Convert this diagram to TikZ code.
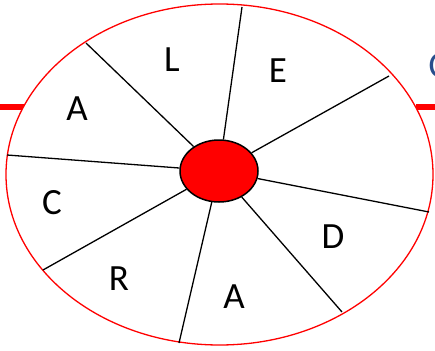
\documentclass[tikz,border=0pt]{standalone}
\usepackage{fontspec}
\setmainfont{Carlito}
\usetikzlibrary{shapes.geometric}
\definecolor{darkblue}{RGB}{40,78,140}
\begin{document}
\begin{tikzpicture}[x=1pt,y=-1pt,
  spoke/.style={draw=black,line width=1.3pt},
  letter/.style={font=\fontsize{37}{40}\selectfont,inner sep=0pt},
  redbar/.style={draw=red,line width=5.5pt}]
\useasboundingbox (0,0) rectangle (435,350);
% side bars
\coordinate (bl1) at (0,107);
\coordinate (bl2) at (24,107);
\coordinate (br1) at (416,107);
\coordinate (br2) at (435,107);
\draw[redbar] (bl1) -- (bl2);
\draw[redbar] (br1) -- (br2);
\node[anchor=west,inner sep=0pt,text=darkblue,font=\fontsize{37}{40}\selectfont] (blueC) at (428.5,66) {C};
% outer ellipse
\node[draw=red,line width=1.3pt,fill=white,ellipse,minimum width=427pt,minimum height=341pt,inner sep=0pt] (outer) at (219.5,174.5) {};
% outer spoke ends
\coordinate (o1) at (86,43);
\coordinate (o2) at (242,7);
\coordinate (o3) at (389,76);
\coordinate (o4) at (429,212);
\coordinate (o5) at (342,312);
\coordinate (o6) at (179,343);
\coordinate (o7) at (43,270);
\coordinate (o8) at (7,155);
% center
\node[draw=black,line width=1.5pt,fill=red,ellipse,minimum width=78pt,minimum height=62pt,inner sep=0pt] (hub) at (219,171) {};
\foreach \i in {1,...,8} {\draw[spoke] (hub) -- (o\i);}
% letters
\node[letter] (l1) at (172,60) {L};
\node[letter] (l2) at (278,71) {E};
\node[letter] (l3) at (77,109) {A};
\node[letter] (l4) at (52,203) {C};
\node[letter] (l5) at (119,279) {R};
\node[letter] (l6) at (234,297) {A};
\node[letter] (l7) at (333,237) {D};
\end{tikzpicture}
\end{document}
